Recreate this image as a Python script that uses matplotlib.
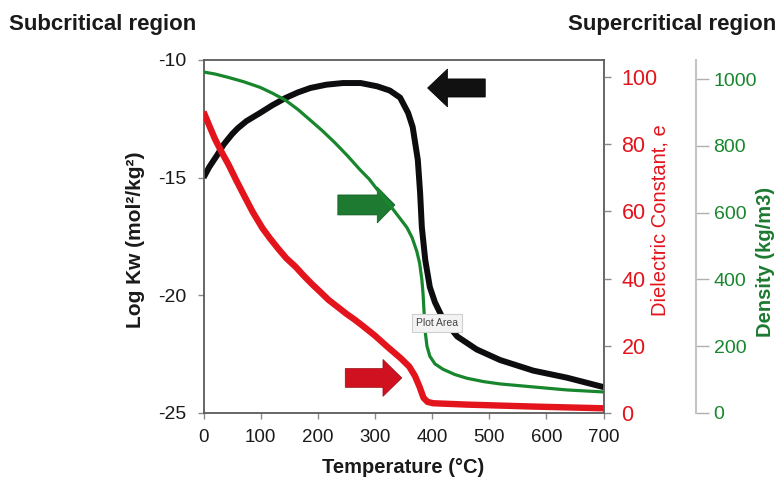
import matplotlib.pyplot as plt
from matplotlib.patches import FancyArrow

plt.rcParams['font.family'] = ['Liberation Sans', 'DejaVu Sans']
plt.rcParams['axes.unicode_minus'] = False

RED = "#e3141c"
GREEN = "#17862c"
DARK_GREEN = "#1b7a30"
FRAME = "#5a5a5a"
TICK_GRAY = "#8a8a8a"

# values
temp_kw = [0, 10, 25, 35, 50, 60, 75, 99, 120, 143, 165, 187, 215, 244, 275,
           304, 326, 344, 358, 366, 375, 379, 382, 388, 396, 405, 419, 444,
           478, 519, 577, 636, 700]
log_kw = [-15.0, -14.55, -14.0, -13.6, -13.15, -12.9, -12.6, -12.25, -11.93,
          -11.62, -11.38, -11.19, -11.05, -10.98, -10.98, -11.12, -11.3, -11.6,
          -12.25, -12.85, -14.25, -15.65, -17.1, -18.5, -19.65, -20.3, -21.0,
          -21.75, -22.3, -22.75, -23.2, -23.5, -23.9]

temp_eps = [0, 10, 20, 32, 44, 57, 70, 86, 103, 116, 130, 145, 161, 175, 190,
            205, 219, 235, 250, 265, 278, 300, 321, 345, 360, 370, 378, 385,
            392, 402, 460, 580, 700]
dielectric = [89.6, 85.5, 81.5, 77.5, 73.8, 69.3, 65.0, 59.8, 55.0, 52.0, 49.0,
              46.0, 43.5, 40.9, 38.3, 35.9, 33.6, 31.5, 29.5, 27.7, 26.0, 23.0,
              19.8, 16.3, 13.8, 11.0, 7.8, 4.5, 3.3, 2.9, 2.5, 1.9, 1.4]

temp_rho = [0, 20, 43, 70, 99, 120, 143, 165, 186, 208, 230, 252, 274, 290,
            304, 318, 332, 345, 356, 365, 373, 378, 382, 384, 386, 388, 391,
            396, 405, 419, 440, 461, 490, 519, 577, 636, 700]
density = [1021, 1015, 1005, 992, 975, 958, 937, 909, 878, 845, 809, 770, 728,
           700, 669, 640, 609, 580, 555, 525, 485, 450, 400, 360, 300, 242, 200,
           170, 147, 131, 115, 104, 94, 87, 78, 69, 63]

x_ticks = [0, 100, 200, 300, 400, 500, 600, 700]
kw_ticks = [-25, -20, -15, -10]
eps_ticks = [0, 20, 40, 60, 80, 100]
rho_ticks = [0, 200, 400, 600, 800, 1000]

fig = plt.figure(figsize=(7.81, 4.79), dpi=100)
ax = fig.add_axes([0.2606, 0.1378, 0.5122, 0.7370])
ax_eps = ax.twinx()
ax_rho = ax.twinx()

# main axis: log Kw
ax.plot(temp_kw, log_kw, color="#0d0d0f", lw=4.3, solid_capstyle="butt")
ax.set_xlim(0, 700)
ax.set_ylim(-25, -10)
ax.set_xticks(x_ticks)
ax.set_yticks(kw_ticks)
ax.tick_params(axis="both", direction="out", length=4.5, width=1,
               color=TICK_GRAY, labelcolor="#1a1a1a")
ax.tick_params(axis="x", labelsize=13.5, pad=7)
ax.tick_params(axis="y", labelsize=14, pad=8)
for side in ["left", "right", "top", "bottom"]:
    ax.spines[side].set_color(FRAME)
    ax.spines[side].set_linewidth(1.3)
ax.set_xlabel("Temperature (°C)", fontsize=14.5, fontweight="bold",
              color="#1a1a1a", va="center")
ax.xaxis.set_label_coords(0.5, -0.153)
ax.set_ylabel("Log Kw (mol²/kg²)", fontsize=15, fontweight="bold",
              color="#1a1a1a", va="center", ha="center")
ax.yaxis.set_label_coords(-0.169, 0.49)

# dielectric constant
ax_eps.plot(temp_eps, dielectric, color=RED, lw=4.6, solid_capstyle="butt")
ax_eps.set_ylim(0, 105)
ax_eps.set_yticks(eps_ticks)
ax_eps.tick_params(axis="y", direction="out", length=5, width=1,
                   color=TICK_GRAY, labelsize=15.5, labelcolor=RED, pad=8)
for side in ["left", "right", "top", "bottom"]:
    ax_eps.spines[side].set_visible(False)
ax_eps.set_ylabel("Dielectric Constant, e", fontsize=14.5, color=RED,
                  va="center", ha="center")
ax_eps.yaxis.set_label_coords(1.141, 0.547)

# density
ax_rho.plot(temp_rho, density, color=GREEN, lw=2.3, solid_capstyle="butt")
ax_rho.set_ylim(0, 1057)
ax_rho.set_yticks(rho_ticks)
for side in ["left", "top", "bottom"]:
    ax_rho.spines[side].set_visible(False)
ax_rho.spines["right"].set_position(("axes", 1.23))
ax_rho.spines["right"].set_color("#c4c4c4")
ax_rho.spines["right"].set_linewidth(1.5)
ax_rho.tick_params(axis="y", direction="out", length=9, width=1,
                   color="#b0b0b0", labelsize=14, labelcolor=GREEN, pad=4)
ax_rho.set_ylabel("Density (kg/m3)", fontsize=14.5, fontweight="bold",
                  color=DARK_GREEN, va="center", ha="center")
ax_rho.yaxis.set_label_coords(1.404, 0.428)

# the three pointer arrows
ax.add_patch(FancyArrow(493, -11.19, -101, 0, width=0.77, head_width=1.61,
                        head_length=35, length_includes_head=True,
                        facecolor="#111111", edgecolor="#000000", lw=0.5))
ax.add_patch(FancyArrow(235, -16.16, 100, 0, width=0.85, head_width=1.53,
                        head_length=31, length_includes_head=True,
                        facecolor="#1d7a30", edgecolor="#0f5a1e", lw=0.5))
ax.add_patch(FancyArrow(248, -23.51, 99, 0, width=0.8, head_width=1.57,
                        head_length=33, length_includes_head=True,
                        facecolor="#d01220", edgecolor="#9a0c16", lw=0.5))

# little tooltip box left over in the picture
ax_rho.text(0.584, 0.255, "Plot Area", transform=ax.transAxes, fontsize=7.5,
            color="#444444", ha="center", va="center", zorder=10,
            bbox=dict(boxstyle="square,pad=0.35", facecolor="#f3f3f3",
                      edgecolor="#cfcfcf", lw=0.8))

fig.text(9 / 781, 1 - 30 / 479, "Subcritical region", fontsize=16,
         fontweight="bold", color="#1a1a1a", va="baseline")
fig.text(568 / 781, 1 - 30 / 479, "Supercritical region", fontsize=16,
         fontweight="bold", color="#1a1a1a", va="baseline")

fig.savefig("out.png", dpi=100)
